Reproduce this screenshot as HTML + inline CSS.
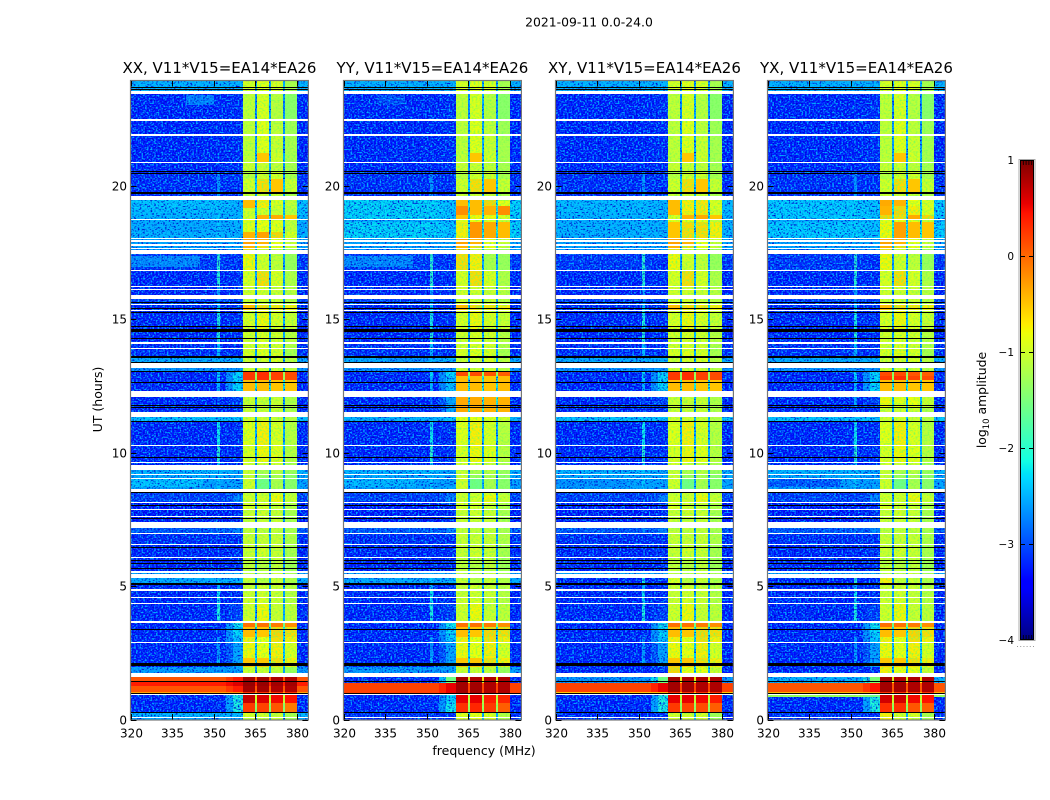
<!DOCTYPE html>
<html lang="en">
<head>
<meta charset="utf-8">
<title>2021-09-11 amplitude spectrogram</title>
<style>
html,body{margin:0;padding:0;background:#fff;width:1050px;height:800px;overflow:hidden}
svg{display:block}
text{font-family:"DejaVu Sans","Liberation Sans",sans-serif;fill:#000}
</style>
</head>
<body>
<svg id="chart" xmlns="http://www.w3.org/2000/svg" width="1050" height="800" viewBox="0 0 1050 800">
  <defs>
    <filter id="speckle" x="0" y="0" width="100%" height="100%" color-interpolation-filters="sRGB">
      <feTurbulence type="fractalNoise" baseFrequency="0.55 0.65" numOctaves="1" seed="4" result="n"/>
      <feColorMatrix in="n" type="matrix" values="0 0 0 0 0  0 0 0 0 0.7  0 0 0 0 1  4 0 0 0 -1.85" result="s"/>
      <feColorMatrix in="n" type="matrix" values="0 0 0 0 0  0 0 0 0 0  0 0 0 0 .8  0 4 0 0 -1.95" result="d"/>
      <feComposite in="s" in2="SourceAlpha" operator="in" result="c"/>
      <feComposite in="d" in2="SourceAlpha" operator="in" result="e"/>
      <feMerge><feMergeNode in="SourceGraphic"/><feMergeNode in="e"/><feMergeNode in="c"/></feMerge>
    </filter>
    <filter id="bandSpeckle" x="0" y="0" width="100%" height="100%" color-interpolation-filters="sRGB">
      <feTurbulence type="fractalNoise" baseFrequency="0.5 0.6" numOctaves="1" seed="9" result="n"/>
      <feColorMatrix in="n" type="matrix" values="0 0 0 0 .45  0 0 0 0 1  0 0 0 0 .35  2.5 0 0 0 -1.1" result="s"/>
      <feComposite in="s" in2="SourceAlpha" operator="in" result="c"/>
      <feMerge><feMergeNode in="SourceGraphic"/><feMergeNode in="c"/></feMerge>
    </filter>
  </defs>
  <text x="589" y="26.5" font-size="12.4" text-anchor="middle">2021-09-11 0.0-24.0</text>
  <text x="0" y="0" font-size="12.5" text-anchor="middle" transform="translate(102,399.5) rotate(-90)">UT (hours)</text>
  <text x="484" y="755" font-size="12.5" text-anchor="middle">frequency (MHz)</text>
  <text x="0" y="0" font-size="12.4" text-anchor="middle" transform="translate(986,400) rotate(-90)">log<tspan font-size="8.5" dy="3">10</tspan><tspan dy="-3"> amplitude</tspan></text>
  <g id="panels"></g>
  <g id="colorbar"></g>
</svg>
<script>
// ---- axis extents and tick labels ----
const freqRange = [320, 384];
const hourRange = [0, 23.93];
const freqTicks = [320, 335, 350, 365, 380];
const hourTicks = [0, 5, 10, 15, 20];
const colorTicks = [1, 0, -1, -2, -3, -4];
const colorRange = [-4, 1];

// ---- panel titles ----
const panelNames = ["XX", "YY", "XY", "YX"];
const panelTitles = ["XX, V11*V15=EA14*EA26", "YY, V11*V15=EA14*EA26", "XY, V11*V15=EA14*EA26", "YX, V11*V15=EA14*EA26"];

// ---- baseline rows (log10 amplitude) ----
// hourStart, hourEnd, background, rfi column, band edge, band 1, band 2, band 3, band 4.
// Hours not listed are missing data and stay white.
const baseRows = [
[0,.06,-2.5,-2.5,-2.5,-1,-1,-1,-1.25],
[.10,.26,-2.4,-2.4,-2.4,-.9,-.95,-1,-1.2],
[.26,.60,-3.05,-3,-2,.25,.2,.1,-.1],
[.60,.90,-3.05,-3,-2,.7,.6,.5,.45],
[.94,1.04,-.3,-.3,-.2,.3,.3,.3,.3],
[1.04,1.25,.1,.1,.4,.85,.85,.8,.8],
[1.25,1.4,.4,.4,.6,.9,.9,.85,.85],
[1.4,1.58,.1,.1,.4,.85,.85,.8,.8],
[1.73,1.98,-2.55,-2.55,-2.5,-1,-1,-1.05,-1.3],
[1.98,2.10,-3.05,-3,-2.5,-.5,-.5,-.6,-.7],
[2.10,2.3,-3.05,-2.4,-2.5,-.5,-.5,-.6,-.7],
[2.3,2.85,-3.05,-2.6,-2.5,-.75,-.8,-.7,-.9],
[2.90,3.10,-3.05,-2.6,-2.3,-.7,-.8,-.6,-.7],
[3.10,3.45,-3.05,-3,-2.2,-.45,-.5,-.55,-.6],
[3.45,3.60,-3.05,-3,-2.1,-.05,-.05,-.1,-.2],
[3.70,4.33,-3.05,-2,-2.9,-.95,-.75,-1,-1.05],
[4.38,4.55,-3.05,-2.1,-3,-.95,-.9,-1,-1.1],
[4.60,4.83,-3.05,-2.1,-3,-1,-.95,-1,-1.1],
[4.88,5.05,-3.05,-2.4,-3,-1,-.95,-1,-1.1],
[5.10,5.30,-2.45,-2.3,-2.4,-1,-1.1,-1,-1.15],
[5.46,5.50,-2.5,-2.5,-2.5,-1.05,-1.1,-1,-1.2],
[5.58,6.04,-3.05,-3,-3,-1.05,-1.1,-1.05,-1.25],
[6.08,6.54,-3.05,-3,-3,-1,-.95,-1,-1.2],
[6.58,6.93,-3,-3,-3,-1,-1,-1,-1.15],
[6.98,7.16,-2.75,-2.7,-2.7,-1.05,-1.05,-1.05,-1.2],
[7.41,7.58,-3.1,-3,-3,-1,-1,-1,-1.2],
[7.62,7.83,-3.1,-3,-3,-1,-.95,-1,-1.2],
[7.87,8.10,-3.1,-3,-3,-.9,-.95,-1,-1.15],
[8.14,8.40,-2.9,-2.9,-2.7,-.95,-.95,-.75,-1],
[8.40,8.52,-2.9,-2.9,-2.8,-1,-1,-.9,-1.1],
[8.62,9.01,-2.5,-2.3,-2.5,-.95,-1.6,-1.2,-1.4],
[9.05,9.14,-2.45,-2.4,-2.5,-1,-1.3,-1.2,-1.4],
[9.18,9.35,-2.4,-2.3,-2.5,-1,-1.2,-1.1,-1.3],
[9.53,9.61,-3.05,-2.2,-3,-.95,-1,-1,-1.2],
[9.65,10.25,-3.05,-1.9,-3,-.9,-.75,-.85,-1.1],
[10.29,11.15,-3.05,-2.1,-3,-.85,-.7,-.9,-1.1],
[11.15,11.34,-2.3,-2.3,-2.3,-.95,-.95,-1,-1.1],
[11.50,11.65,-3.05,-3,-3,-1,-1,-1,-1.15],
[11.69,12.09,-3.05,-2.8,-2.9,-1,-1,-1,-1.15],
[12.30,12.70,-3.05,-2.4,-2.2,-.45,-.45,-.5,-.5],
[12.70,13.05,-3.05,-2.2,-2.2,.25,.3,.2,.15],
[13.05,13.18,-2.6,-2.6,-2.6,-1,-1,-1,-1.1],
[13.34,13.58,-2.45,-2.4,-2.4,-1,-.95,-.9,-1.1],
[13.62,13.88,-3,-2.4,-3,-.9,-.85,-.9,-1.2],
[13.92,14.08,-3,-2.3,-3,-.95,-.9,-.95,-1.15],
[14.13,14.55,-3.05,-1.9,-3,-.95,-.9,-.95,-1.1],
[14.55,15.29,-3.05,-2,-3,-.9,-.75,-.9,-1],
[15.33,15.53,-3.05,-2.3,-3,-.45,-.6,-.65,-.7],
[15.58,15.75,-2.9,-2.6,-2.9,-.95,-.95,-1,-1.1],
[15.90,16.09,-3.05,-2.5,-3,-.95,-.95,-1,-1.1],
[16.13,16.19,-3.05,-2.5,-3,-.95,-.95,-1,-1.1],
[16.23,16.81,-3.05,-1.9,-3,-.9,-.6,-.9,-1.15],
[16.85,17.45,-2.95,-1.9,-3,-.75,-.95,-1.05,-1.3],
[17.57,17.62,-2.6,-2.5,-2.6,-.6,-1,-1.1,-1.3],
[17.67,17.75,-2.5,-2.5,-2.5,-.4,-.6,-.8,-1],
[17.80,17.90,-2.5,-2.5,-2.5,-.3,-.4,-.8,-1],
[17.95,18.0,-2.5,-2.5,-2.5,-.3,-.4,-.8,-1],
[18.05,18.25,-2.4,-2.3,-2.4,-.4,-.3,-.55,-.9],
[18.25,18.69,-2.45,-2.3,-2.4,-.85,-.8,-.85,-1.05],
[18.73,18.9,-2.4,-2.3,-2.4,-.9,-.4,-.35,-.5],
[18.9,19.15,-2.35,-2.3,-2.4,-.95,-.95,-1,-1.1],
[19.15,19.45,-2.3,-2.3,-2.4,-.45,-.7,-.9,-1.05],
[19.62,19.7,-3,-2.5,-3,-1,-1,-1,-1.2],
[19.7,20.25,-3,-2.6,-3,-.95,-.6,-.5,-1],
[20.25,20.52,-3,-2.7,-3,-1.1,-.95,-.95,-1.2],
[20.52,20.84,-3.05,-3,-3,-1,-1,-1.05,-1.2],
[20.88,21.2,-3.05,-3,-3,-1.05,-.5,-.95,-1.2],
[21.2,21.87,-3.05,-3,-3,-1.05,-.85,-1,-1.2],
[21.92,22.4,-3.05,-3,-3,-1.05,-.85,-1.05,-1.25],
[22.5,23.43,-3.05,-3,-3,-1.05,-.9,-1.1,-1.4],
[23.53,23.93,-2.4,-2.4,-2.4,-.9,-.85,-.9,-1.2]
];

// ---- rows where a polarisation differs from the baseline ----
const xxOverrides = [];
const yyOverrides = [
[0,.06,-3,-3,-3,-.85,-.8,-.85,-1.1],
[.10,.26,-3,-3,-3,-.85,-.8,-.85,-1.1],
[.26,.60,-3.05,-3,-2.1,.3,.35,.25,.05],
[.60,.90,-3.05,-3,-2.2,.55,.55,.4,.35],
[.94,1.38,.2,.2,.55,.85,.85,.8,.8],
[1.38,1.58,-3,-3,-1.6,.85,.8,.8,.8],
[11.69,12.09,-3.05,-2.8,-2.5,-.35,-.35,-.4,-.4],
[11.50,11.65,-3.05,-3,-2.5,-.35,-.35,-.4,-.4],
[11.15,11.34,-2.4,-2.4,-2.3,-.8,-.8,-.85,-.95],
[12.85,13.05,-3.05,-2.2,-2.2,.15,.15,.1,.05],
[12.30,12.85,-3.05,-2.4,-2.3,-.45,-.45,-.5,-.45],
[18.05,18.65,-2.2,-2.2,-2.3,-.7,-.25,-.35,-.45],
[18.73,18.9,-2.2,-2.2,-2.3,-.5,-.75,-.75,-.9],
[18.9,19.25,-2.2,-2.2,-2.3,-.2,-.45,-.4,-.2],
[19.25,19.45,-2.2,-2.2,-2.3,-.45,-.45,-.55,-.85],
[16.85,17.45,-2.95,-1.9,-3,-.6,-.7,-1.2,-1.3]
];
const xyOverrides = [
[0,.06,-3.05,-3,-3,-.95,-.95,-.9,-1.25],
[.10,.26,-3.05,-3,-3,-.95,-.95,-.9,-1.25],
[.26,.60,-3.05,-3,-2,.25,.2,.15,.05],
[.60,.90,-3.05,-3,-2,.55,.55,.5,.4],
[.94,1.04,-.5,-.5,-.4,.3,.3,.3,.3],
[1.04,1.38,.2,.2,.55,.85,.85,.8,.8],
[1.38,1.58,-2.6,-2.6,-1.6,.85,.8,.8,.8],
[1.73,1.98,-3.05,-3,-3,-.55,-.8,-.8,-1],
[5.10,5.30,-3.05,-2.1,-3,-.9,-1.1,-1,-1.15],
[18.05,18.65,-2.4,-2.3,-2.4,-.5,-.6,-.6,-.7],
[18.9,19.45,-2.35,-2.3,-2.4,-.45,-.7,-.65,-.9]
];
const yxOverrides = [
[0,.06,-3,-3,-3,-.7,-.95,-.9,-1.2],
[.10,.26,-3,-3,-3,-.7,-.95,-.9,-1.2],
[.26,.60,-3.05,-3,-2,.3,.3,.1,.05],
[.60,.86,-3.05,-3,-2,.65,.65,.5,.45],
[.86,.90,-1.3,-1.3,-1.6,.65,.65,.5,.45],
[.94,1.04,-.4,-.4,-.3,.3,.3,.3,.3],
[1.04,1.38,.1,.1,.45,.85,.85,.8,.8],
[1.38,1.58,-2.4,-2.4,-1.5,.85,.8,.8,.8],
[1.73,1.98,-3.05,-3,-3,-.7,-.8,-.8,-1],
[5.10,5.30,-3.05,-1.9,-3,-.7,-1.05,-1,-1.15],
[12.85,13.05,-3.05,-2.2,-2.2,.15,.15,.1,.05],
[11.69,12.09,-3.05,-2.5,-2.9,-.75,-.85,-.8,-1],
[18.05,18.65,-2.25,-2.2,-2.3,-.75,-.3,-.45,-.5],
[18.73,18.9,-2.25,-2.2,-2.3,-.55,-.6,-.35,-.55],
[18.9,19.25,-2.25,-2.2,-2.3,-.4,-.55,-.7,-.9],
[19.25,19.45,-2.25,-2.2,-2.3,-.35,-.4,-.8,-.9]
];
const panelOverrides = [xxOverrides, yyOverrides, xyOverrides, yxOverrides];

// ---- localised patches: hourStart, hourEnd, freqStart, freqEnd, level ----
const xxPatches = [[23.0,23.4,340,350,-2.7],[16.95,17.35,320,345,-2.65],[8.7,9.0,320,346,-2.3]];
const yyPatches = [[23.0,23.4,332,342,-2.8],[16.95,17.35,320,345,-2.65],[8.7,9.0,320,346,-2.35],[13.35,13.55,336,350,-2.6]];
const xyPatches = [[8.7,9.0,320,346,-2.6]];
const yxPatches = [[8.7,9.0,320,346,-2.75]];
const panelPatches = [xxPatches, yyPatches, xyPatches, yxPatches];

// ---- flagged black lines: hourStart, hourEnd ----
const blackLines = [
[.25,.29],[.96,1.0],[1.42,1.46],[2.0,2.10],[3.36,3.40],[5.04,5.11],[5.63,5.67],[5.83,5.87],[5.95,5.99],
[6.43,6.47],[7.52,7.56],[7.98,8.02],[8.47,8.51],[9.80,9.84],[11.13,11.17],[11.66,11.70],[11.75,11.79],
[12.59,12.63],[13.03,13.07],[13.34,13.38],[13.55,13.62],[14.26,14.30],[14.53,14.57],[14.60,14.64],[14.69,14.73],
[15.22,15.26],[15.37,15.41],[15.59,15.63],[19.67,19.71],[19.72,19.76],[20.44,20.48],[20.50,20.54],[23.56,23.60],[23.64,23.68]
];

// ---- frequency column boundaries (MHz) ----
const backgroundSpans = [[320,351],[352.3,354.5],[380,384]];
const rfiSpan = [351,352.3];
const shoulderSpan = [354.5,357];
const edgeSpan = [357,360.6];
const bandSpans = [[360.6,364.8],[365.7,369.8],[370.7,374.9],[375.8,380]];
const notchSpans = [[364.8,365.7],[369.8,370.7],[374.9,375.8]];
const notchFloors = [-2.7,-2.4,-2.8];

const NS = "http://www.w3.org/2000/svg";
const plotTop = 81, plotBottom = 719.5, plotWidth = 176.9;
const plotLefts = [131, 344, 556, 768];
const hourPx = 26.7;

function xScale(left, f) { return left + (f - freqRange[0]) * plotWidth / (freqRange[1] - freqRange[0]); }
function yScale(h) { return plotBottom - h * hourPx; }
function cbarY(v) { return 640 - (v - colorRange[0]) * 480 / (colorRange[1] - colorRange[0]); }

// the speckle layer brightens cells, so the flat base of a dim cell sits a little lower
function speckleBase(level) {
  if (level >= -1.7) return level;
  return level < -2.7 ? level - .25 : level - .05;
}

function jet(v) {
  const t = Math.max(0, Math.min(1, (v - colorRange[0]) / (colorRange[1] - colorRange[0])));
  const r = t < .35 ? 0 : t < .66 ? (t - .35) / .31 : t < .89 ? 1 : 1 - (t - .89) / .11 * .5;
  const g = t < .125 ? 0 : t < .375 ? (t - .125) / .25 : t < .64 ? 1 : t < .91 ? 1 - (t - .64) / .27 : 0;
  const b = t < .11 ? .5 + t / .11 * .5 : t < .34 ? 1 : t < .65 ? 1 - (t - .34) / .31 : 0;
  return "rgb(" + Math.round(r * 255) + "," + Math.round(g * 255) + "," + Math.round(b * 255) + ")";
}

function make(tag, attrs, parent) {
  const el = document.createElementNS(NS, tag);
  for (const k in attrs) el.setAttribute(k, attrs[k]);
  parent.appendChild(el);
  return el;
}

function clipRows(base, over) {
  let pieces = base.map(function (r) { return r.slice(); });
  over.forEach(function (o) {
    const next = [];
    pieces.forEach(function (r) {
      if (o[1] <= r[0] || o[0] >= r[1]) { next.push(r); return; }
      if (o[0] > r[0]) { const a = r.slice(); a[1] = o[0]; next.push(a); }
      if (o[1] < r[1]) { const b = r.slice(); b[0] = o[1]; next.push(b); }
    });
    pieces = next;
  });
  return pieces.concat(over);
}

function addCell(left, h0, h1, f0, f1, level, group) {
  const x0 = Math.round(xScale(left, f0)), x1 = Math.round(xScale(left, f1));
  const y0 = Math.round(yScale(h1)), y1 = Math.round(yScale(h0));
  const cell = make("rect", { x: x0, y: y0, width: Math.max(1, x1 - x0), height: Math.max(1, y1 - y0), fill: jet(speckleBase(level)) }, group);
  
  
}

const panelsRoot = document.getElementById("panels");

panelNames.forEach(function (name, p) {
  const left = plotLefts[p];
  const panel = make("g", {}, panelsRoot);
  
  

  const noisy = make("g", { filter: "url(#speckle)", "shape-rendering": "crispEdges" }, panel);
  
  
  const textured = make("g", { filter: "url(#bandSpeckle)", "shape-rendering": "crispEdges" }, panel);
  
  
  const smooth = make("g", { "shape-rendering": "crispEdges" }, panel);
  
  
  const pick = function (level) { return level < -1.7 ? noisy : level < -.5 ? textured : smooth; };

  clipRows(baseRows, panelOverrides[p]).forEach(function (r) {
    const h0 = r[0], h1 = r[1];
    backgroundSpans.forEach(function (s) { addCell(left, h0, h1, s[0], s[1], r[2], pick(r[2])); });
    addCell(left, h0, h1, rfiSpan[0], rfiSpan[1], r[3], pick(r[3]));
    const shoulder = (r[2] + r[4]) / 2;
    addCell(left, h0, h1, shoulderSpan[0], shoulderSpan[1], shoulder, pick(shoulder));
    addCell(left, h0, h1, edgeSpan[0], edgeSpan[1], r[4], pick(r[4]));
    bandSpans.forEach(function (s, i) { addCell(left, h0, h1, s[0], s[1], r[5 + i], pick(r[5 + i])); });
    const mean = (r[5] + r[6] + r[7] + r[8]) / 4;
    notchSpans.forEach(function (s, i) {
      const level = Math.max(notchFloors[i], mean - 1.5, r[2]);
      addCell(left, h0, h1, s[0], s[1], level, pick(level));
    });
  });

  panelPatches[p].forEach(function (q) { addCell(left, q[0], q[1], q[2], q[3], q[4], noisy); });

  const lines = make("g", { "shape-rendering": "crispEdges" }, panel);
  
  
  blackLines.forEach(function (b) {
    const y0 = Math.round(yScale(b[1]));
    const y1 = Math.round(yScale(b[0]));
    const line = make("rect", { x: left, y: y0, width: plotWidth, height: Math.max(1, y1 - y0), fill: "#000" }, lines);
    
    
  });

  const frame = make("rect", { x: left - .5, y: plotTop - .5, width: plotWidth + 1, height: plotBottom - plotTop + 1, fill: "none", stroke: "#777", "stroke-width": 1.2 }, panel);
  
  

  const title = make("text", { x: left + plotWidth / 2, y: 73, "font-size": 15, "text-anchor": "middle" }, panel);
  title.textContent = panelTitles[p];
  
  

  freqTicks.forEach(function (f) {
    const x = Math.round(xScale(left, f)) + .5;
    const tickLow = make("line", { x1: x, x2: x, y1: plotBottom, y2: plotBottom - 5.5, stroke: "#000", "stroke-width": 1 }, panel);
    
    
    const tickTop = make("line", { x1: x, x2: x, y1: plotTop, y2: plotTop + 5.5, stroke: "#000", "stroke-width": 1 }, panel);
    
    
    const label = make("text", { x: x, y: 737.5, "font-size": 12, "text-anchor": "middle" }, panel);
    label.textContent = String(f);
    
    
  });

  hourTicks.forEach(function (h) {
    const y = Math.round(yScale(h)) + .5;
    const tickLeft = make("line", { x1: left, x2: left + 5.5, y1: y, y2: y, stroke: "#000", "stroke-width": 1 }, panel);
    
    
    const tickRight = make("line", { x1: left + plotWidth, x2: left + plotWidth - 5.5, y1: y, y2: y, stroke: "#000", "stroke-width": 1 }, panel);
    
    
    const label = make("text", { x: left - 4, y: y + 4, "font-size": 12, "text-anchor": "end" }, panel);
    label.textContent = String(h);
    
    
  });
});

// ---- colorbar ----
const cbar = document.getElementById("colorbar");
const cbarLeft = 1020, cbarRight = 1034;
const cbarSteps = make("g", { "shape-rendering": "crispEdges" }, cbar);


for (let i = 0; i < 240; i++) {
  const v0 = colorRange[0] + (colorRange[1] - colorRange[0]) * i / 240;
  const v1 = colorRange[0] + (colorRange[1] - colorRange[0]) * (i + 1) / 240;
  const step = make("rect", { x: cbarLeft, y: cbarY(v1), width: cbarRight - cbarLeft, height: cbarY(v0) - cbarY(v1) + .5, fill: jet((v0 + v1) / 2) }, cbarSteps);
  
  
}
const cbarOuter = make("rect", { x: cbarLeft - 1, y: 159.5, width: cbarRight - cbarLeft + 2, height: 481, fill: "none", stroke: "#aaa", "stroke-width": 1 }, cbar);


const cbarInner = make("rect", { x: cbarLeft + .5, y: 160.5, width: cbarRight - cbarLeft - 1, height: 479, fill: "none", stroke: "#000", "stroke-width": 1 }, cbar);


colorTicks.forEach(function (v) {
  const y = Math.round(cbarY(v));
  const interior = v !== colorRange[0] && v !== colorRange[1];
  if (interior) {
    const tickA = make("line", { x1: cbarLeft, x2: cbarLeft + 5, y1: y + .5, y2: y + .5, stroke: "#000", "stroke-width": 1 }, cbar);
    
    
    const tickB = make("line", { x1: cbarRight - 5, x2: cbarRight, y1: y + .5, y2: y + .5, stroke: "#000", "stroke-width": 1 }, cbar);
    
    
  } else {
    for (let k = 1; k < 5; k++) {
      const yEnd = v === colorRange[1] ? y + 5 : y - 5;
      const comb = make("line", { x1: cbarLeft + k * 2.8 + .5, x2: cbarLeft + k * 2.8 + .5, y1: y, y2: yEnd, stroke: "#000", "stroke-width": .8 }, cbar);
      
      
    }
  }
  const label = make("text", { x: 1014, y: y + 4, "font-size": 10.5, "text-anchor": "end" }, cbar);
  label.textContent = v < 0 ? "\u2212" + Math.abs(v) : String(v);
  
  
});
for (let d = 0; d < 6; d++) {
  const dot = make("rect", { x: 1017 + d * 3.2, y: 646, width: 1, height: 1, fill: "#999" }, cbar);
  
  
}
</script>
</body>
</html>
